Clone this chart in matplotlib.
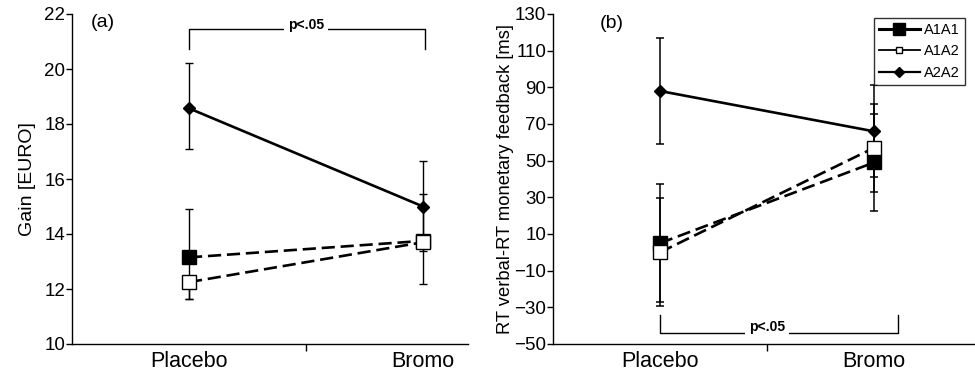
import matplotlib
matplotlib.use("Agg")
import matplotlib.pyplot as plt
from matplotlib.lines import Line2D

plt.rcParams['font.family'] = ['Liberation Sans', 'DejaVu Sans']

conditions = ["Placebo", "Bromo"]
groups = ["A1A1", "A1A2", "A2A2"]

# Panel (a): Gain [EURO]
gain_a1a1 = [13.15, 13.75]
gain_a1a1_lo = [1.53, 0.0]
gain_a1a1_hi = [1.75, 1.72]
gain_a1a2 = [12.25, 13.70]
gain_a1a2_lo = [0.63, 1.52]
gain_a1a2_hi = [0.0, 0.0]
gain_a2a2 = [18.57, 15.0]
gain_a2a2_lo = [1.49, 1.6]
gain_a2a2_hi = [1.64, 1.65]

# Panel (b): RT difference [ms]
rt_a1a1 = [5, 49]
rt_a1a1_err = [32, 26.5]
rt_a1a2 = [0, 57]
rt_a1a2_err = [29.5, 24]
rt_a2a2 = [88, 66]
rt_a2a2_err = [29, 25]

yticks_a = [10, 12, 14, 16, 18, 20, 22]
yticks_b = [-50, -30, -10, 10, 30, 50, 70, 90, 110, 130]

fig = plt.figure(figsize=(9.75, 3.78), dpi=100)
W, H = 975, 378
axa = fig.add_axes([72 / W, 34 / H, (468 - 72) / W, 330 / H])
axb = fig.add_axes([553 / W, 34 / H, (975 - 553) / W, 330 / H])

x = [1, 2]
dash = (0, (5, 2.2))

styles = {
    "A1A1": dict(ls=dash, marker='s', ms=10, mfc='black', mec='black'),
    "A1A2": dict(ls=dash, marker='s', ms=10, mfc='white', mec='black'),
    "A2A2": dict(ls='-', marker='D', ms=6.5, mfc='black', mec='black'),
}


def draw(ax, vals, lo, hi, st, lw_err):
    ax.errorbar(x, vals, yerr=[lo, hi], fmt='none', ecolor='black',
                elinewidth=lw_err, capsize=3.2, capthick=lw_err, zorder=2)
    ax.plot(x, vals, color='black', lw=1.9, zorder=3, ls=st['ls'])
    ax.plot(x, vals, ls='none', marker=st['marker'], ms=st['ms'],
            mfc=st['mfc'], mec=st['mec'], mew=1.0, zorder=4)


# Panel (a)
draw(axa, gain_a2a2, gain_a2a2_lo, gain_a2a2_hi, styles["A2A2"], 1.0)
draw(axa, gain_a1a1, gain_a1a1_lo, gain_a1a1_hi, styles["A1A1"], 1.0)
draw(axa, gain_a1a2, gain_a1a2_lo, gain_a1a2_hi, styles["A1A2"], 1.0)

# Panel (b)
draw(axb, rt_a2a2, rt_a2a2_err, rt_a2a2_err, styles["A2A2"], 1.1)
draw(axb, rt_a1a1, rt_a1a1_err, rt_a1a1_err, styles["A1A1"], 1.1)
draw(axb, rt_a1a2, rt_a1a2_err, rt_a1a2_err, styles["A1A2"], 1.1)

for ax, yt, xr in [(axa, yticks_a, 0.5 + 396 / 234), (axb, yticks_b, 0.5 + 422 / 214)]:
    ax.set_xlim(0.5, xr)
    ax.set_ylim(yt[0], yt[-1])
    ax.set_yticks(yt)
    ax.set_xticks(x)
    ax.set_xticklabels(conditions, fontsize=15.5)
    ax.set_xticks([1.5], minor=True)
    ax.tick_params(axis='x', which='major', length=0, pad=5)
    ax.tick_params(axis='x', which='minor', length=5, width=1, direction='out')
    ax.tick_params(axis='y', length=4, width=1, labelsize=13.5, pad=1)
    for s in ['top', 'right']:
        ax.spines[s].set_visible(False)
    for s in ['left', 'bottom']:
        ax.spines[s].set_linewidth(1.0)

axa.set_ylabel("Gain [EURO]", fontsize=14, labelpad=6)
axb.set_ylabel("RT verbal-RT monetary feedback [ms]", fontsize=13.2, labelpad=0)

axa.text(0.58, 21.7, "(a)", fontsize=14, va='center', ha='left')
axb.text(0.72, 125, "(b)", fontsize=14, va='center', ha='left')

# Significance brackets
axa.plot([1, 1, 2.01, 2.01], [20.72, 21.45, 21.45, 20.72], color='black', lw=1.0, zorder=1)
axa.text(1.5, 21.6, "p<.05", fontsize=10, fontweight='bold', ha='center', va='center',
         bbox=dict(facecolor='white', edgecolor='none', pad=2.5), zorder=2)

axb.plot([1, 1, 2.11, 2.11], [-34.2, -44, -44, -34.2], color='black', lw=1.0, zorder=1)
axb.text(1.5, -40.5, "p<.05", fontsize=10, fontweight='bold', ha='center', va='center',
         bbox=dict(facecolor='white', edgecolor='none', pad=2.5), zorder=2)

# Legend
handles = [
    Line2D([], [], color='black', lw=2.2, marker='s', ms=8, mfc='black', mec='black'),
    Line2D([], [], color='black', lw=1.3, marker='s', ms=5, mfc='white', mec='black'),
    Line2D([], [], color='black', lw=1.6, marker='D', ms=5, mfc='black', mec='black'),
]
leg = axb.legend(handles, groups, loc='upper right', bbox_to_anchor=(0.976, 0.988),
                 fontsize=10.5, frameon=True, fancybox=False, handlelength=2.8,
                 handletextpad=0.3, borderpad=0.35, labelspacing=0.5, borderaxespad=0.0)
leg.get_frame().set_edgecolor('black')
leg.get_frame().set_linewidth(1.0)

fig.savefig("out.png", dpi=100)
